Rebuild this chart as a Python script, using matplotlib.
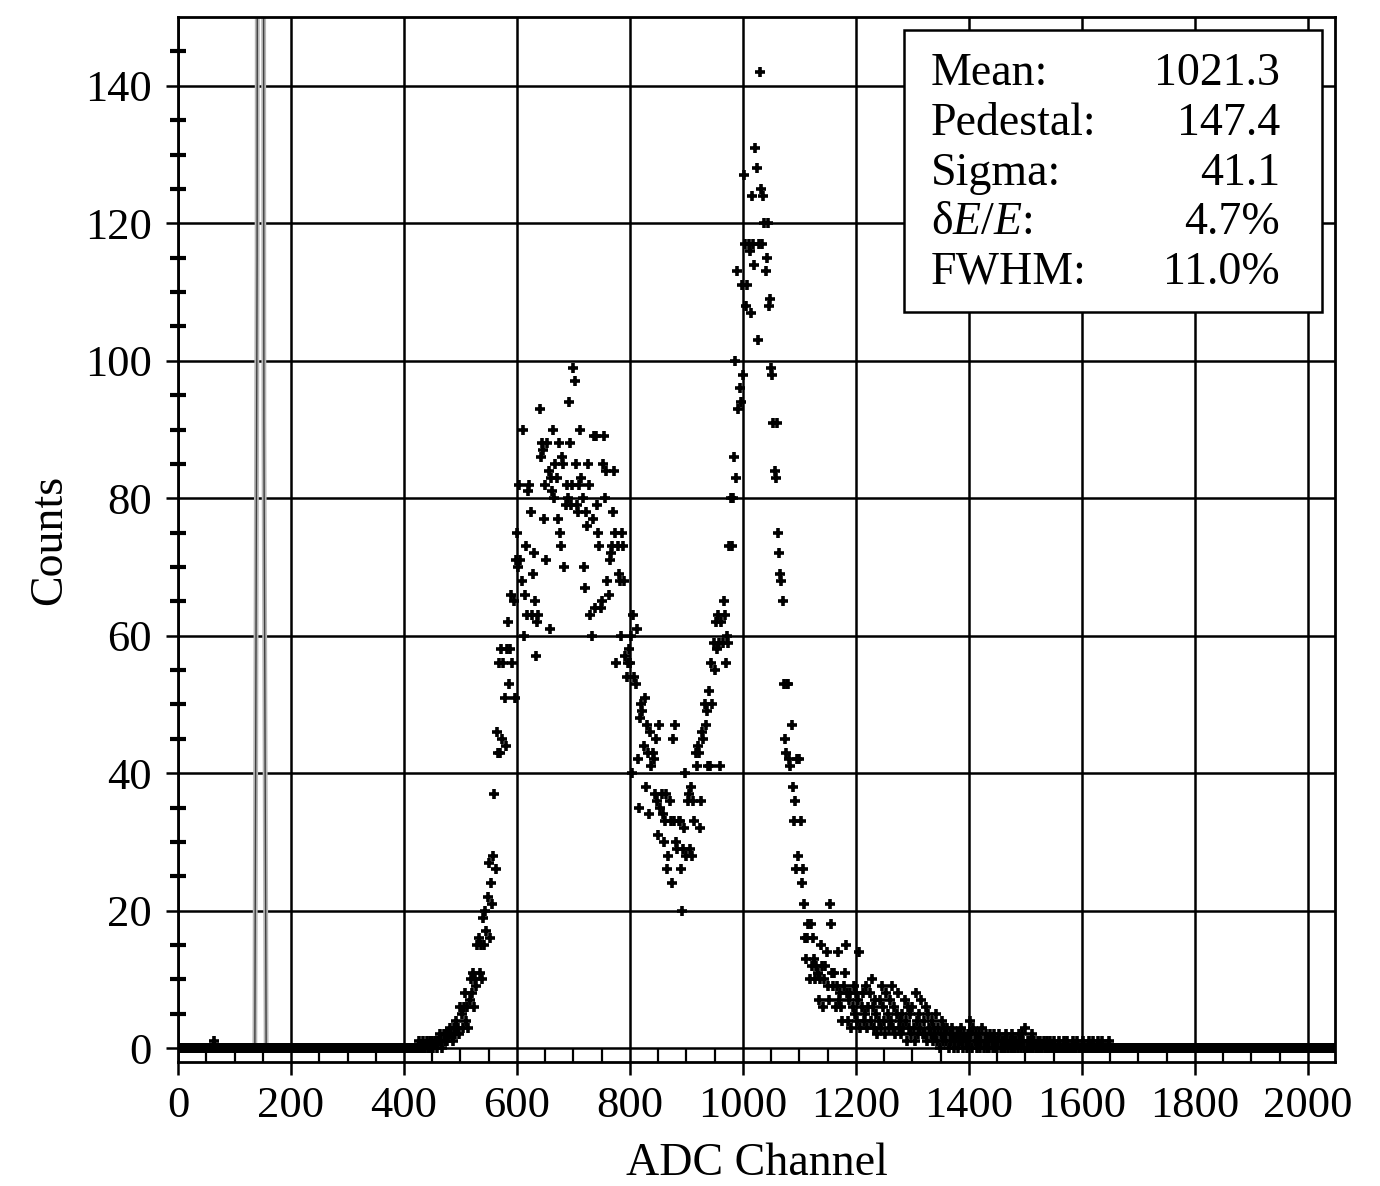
#!/usr/bin/env python3
"""
ADC spectrum with pedestal and fitted peak summary box.
"""

import numpy as np
import matplotlib.pyplot as plt
from matplotlib.patches import Rectangle

plt.rcParams['font.family'] = ['Liberation Serif', 'DejaVu Serif']
plt.rcParams['mathtext.fontset'] = 'custom'
plt.rcParams['mathtext.rm'] = 'Liberation Serif'
plt.rcParams['mathtext.it'] = 'Liberation Serif:italic'

# histogram: 2-channel bins, 0..2046
bin_width = 2
n_channels = 2048

# counts of the signal region, starting at channel 420, one row = 20 channels
signal_start = 420
signal_counts = [
    0, 0, 0, 1, 0, 0, 0, 1, 0, 0,
    1, 0, 0, 1, 0, 1, 0, 1, 1, 0,
    1, 1, 2, 1, 0, 2, 1, 2, 1, 2,
    2, 3, 2, 1, 3, 2, 4, 3, 3, 2,
    6, 5, 3, 6, 8, 4, 6, 3, 7, 10,
    8, 11, 6, 10, 9, 15, 16, 11, 15, 10,
    19, 15, 20, 17, 22, 27, 16, 24, 21, 28,
    37, 26, 46, 43, 56, 43, 58, 45, 56, 51,
    44, 58, 62, 53, 58, 66, 56, 65, 51, 71,
    75, 70, 82, 71, 68, 90, 60, 66, 73, 63,
    81, 82, 78, 63, 69, 72, 65, 57, 62, 63,
    93, 86, 88, 87, 77, 82, 71, 88, 84, 61,
    83, 81, 90, 80, 85, 83, 77, 88, 75, 73,
    86, 85, 70, 79, 82, 80, 94, 88, 79, 82,
    99, 97, 85, 79, 78, 82, 90, 83, 80, 70,
    67, 78, 76, 85, 82, 63, 60, 77, 89, 64,
    89, 79, 75, 73, 64, 65, 85, 89, 80, 84,
    68, 66, 71, 72, 73, 78, 84, 75, 56, 73,
    69, 68, 60, 75, 73, 68, 57, 54, 56, 58,
    56, 60, 40, 63, 54, 53, 61, 42, 35, 48,
    50, 49, 44, 51, 38, 47, 43, 34, 46, 41,
    43, 42, 37, 45, 36, 31, 47, 35, 37, 34,
    30, 33, 37, 26, 28, 36, 33, 24, 45, 33,
    47, 30, 29, 33, 33, 26, 20, 29, 32, 40,
    28, 36, 37, 29, 38, 28, 36, 33, 43, 41,
    44, 43, 32, 36, 46, 45, 50, 47, 49, 41,
    52, 41, 56, 50, 59, 55, 62, 58, 63, 59,
    41, 62, 59, 65, 63, 56, 60, 59, 73, 80,
    73, 80, 86, 100, 83, 113, 93, 96, 94, 111,
    98, 127, 117, 108, 111, 117, 116, 107, 124, 117,
    114, 131, 128, 103, 117, 142, 125, 117, 124, 120,
    113, 115, 120, 108, 109, 99, 98, 91, 84, 83,
    91, 75, 72, 69, 68, 65, 53, 45, 43, 53,
    53, 42, 41, 47, 38, 33, 36, 26, 42, 28,
    42, 33, 24, 26, 21, 16, 13, 16, 18, 10,
    18, 12, 16, 13, 10, 12, 11, 7, 10, 15,
    12, 6, 10, 12, 14, 9, 7, 21, 18, 11,
    9, 11, 6, 9, 14, 7, 8, 6, 4, 9,
    11, 15, 8, 4, 7, 8, 3, 6, 9, 5,
    8, 4, 7, 14, 3, 6, 8, 4, 5, 9,
    3, 6, 8, 4, 10, 6, 3, 7, 5, 2,
    4, 7, 3, 9, 6, 4, 2, 8, 5, 3,
    7, 4, 9, 3, 6, 2, 5, 8, 3, 4,
    2, 5, 3, 7, 4, 1, 6, 3, 5, 2,
    6, 3, 1, 8, 4, 2, 5, 3, 7, 2,
    4, 2, 6, 1, 5, 3, 2, 4, 1, 3,
    2, 5, 1, 3, 0, 2, 4, 1, 3, 2,
    1, 3, 0, 2, 1, 3, 2, 0, 1, 2,
    0, 2, 1, 3, 1, 0, 2, 1, 0, 2,
    1, 4, 2, 0, 3, 1, 2, 0, 1, 2,
    0, 1, 3, 0, 1, 2, 0, 1, 0, 2,
    1, 0, 2, 0, 1, 0, 1, 2, 0, 1,
    0, 1, 0, 2, 1, 0, 1, 0, 2, 0,
    1, 0, 1, 0, 2, 1, 0, 2, 1, 0,
    3, 0, 1, 0, 1, 0, 2, 0, 1, 0,
    0, 1, 0, 1, 0, 0, 1, 0, 0, 1,
    0, 0, 1, 0, 0, 1, 0, 0, 0, 0,
    1, 0, 0, 0, 1, 0, 0, 1, 0, 0,
    0, 0, 1, 0, 0, 0, 1, 0, 0, 0,
    0, 1, 0, 0, 0, 0, 1, 0, 0, 0,
    1, 0, 0, 0, 1, 0, 0, 0, 1, 0,
    0, 0, 0, 0, 1, 0, 0, 0, 0, 0,
]

# isolated low-channel hit
stray_channels = [64]
stray_counts = [1]

# pedestal peak (drawn as a line, runs off the top)
ped_channels = [128, 132, 136, 140, 144, 148, 152, 156, 160]
ped_counts = [0, 0, 0, 115, 600, 600, 91, 0, 0]

# summary box
stat_names = ['Mean:', 'Pedestal:', 'Sigma:', r'δ$E/E$:', 'FWHM:']
stat_values = ['1021.3', '147.4', '41.1', '4.7%', '11.0%']

channels = np.arange(0, n_channels, bin_width)
counts = np.zeros(len(channels))
i0 = signal_start // bin_width
counts[i0:i0 + len(signal_counts)] = signal_counts
for ch, c in zip(stray_channels, stray_counts):
    counts[ch // bin_width] = c

fig = plt.figure(figsize=(13.8, 11.86), dpi=100)
ax = fig.add_axes([0.129, 0.1046, 0.8384, 0.881])

# pedestal
ax.plot(ped_channels, ped_counts, color='0.72', lw=3.5, zorder=2)
ax.plot(ped_channels, ped_counts, color='0.25', lw=1.0, zorder=2)

# spectrum points
ax.plot(channels, counts, linestyle='none', marker='+', color='black',
        markersize=7.5, markeredgewidth=2.6, zorder=3)

ax.set_xlim(0, 2048)
ax.set_ylim(-2, 150)
ax.set_xticks(np.arange(0, 2001, 200))
ax.set_yticks(np.arange(0, 141, 20))
ax.set_xticks(np.arange(50, 2048, 50), minor=True)
ax.set_yticks(np.arange(5, 150, 5), minor=True)

ax.grid(True, which='major', color='black', lw=1.8, zorder=1)
ax.set_axisbelow(True)
for s in ax.spines.values():
    s.set_linewidth(2)

ax.tick_params(axis='both', which='major', labelsize=32, width=1.8,
               length=9, direction='out')
ax.tick_params(axis='y', which='major', pad=10)
ax.tick_params(axis='x', which='major', pad=8)
ax.tick_params(axis='y', which='minor', direction='inout', length=12, width=3)
ax.tick_params(axis='x', which='minor', direction='in', length=10, width=1.6)

ax.set_xlabel('ADC Channel', fontsize=33, labelpad=12)
ax.set_ylabel('Counts', fontsize=33, labelpad=10)

# statistics box
ax.add_patch(Rectangle((0.6275, 0.7177), 0.3613, 0.2699, transform=ax.transAxes,
                       facecolor='white', edgecolor='black', lw=1.8, zorder=5))
row_y = [0.935, 0.887, 0.839, 0.792, 0.745]
for name, val, y in zip(stat_names, stat_values, row_y):
    ax.text(0.6508, y, name, transform=ax.transAxes, fontsize=33,
            ha='left', va='baseline', zorder=6)
    ax.text(0.9525, y, val, transform=ax.transAxes, fontsize=33,
            ha='right', va='baseline', zorder=6)

fig.savefig('out.png', dpi=100)
